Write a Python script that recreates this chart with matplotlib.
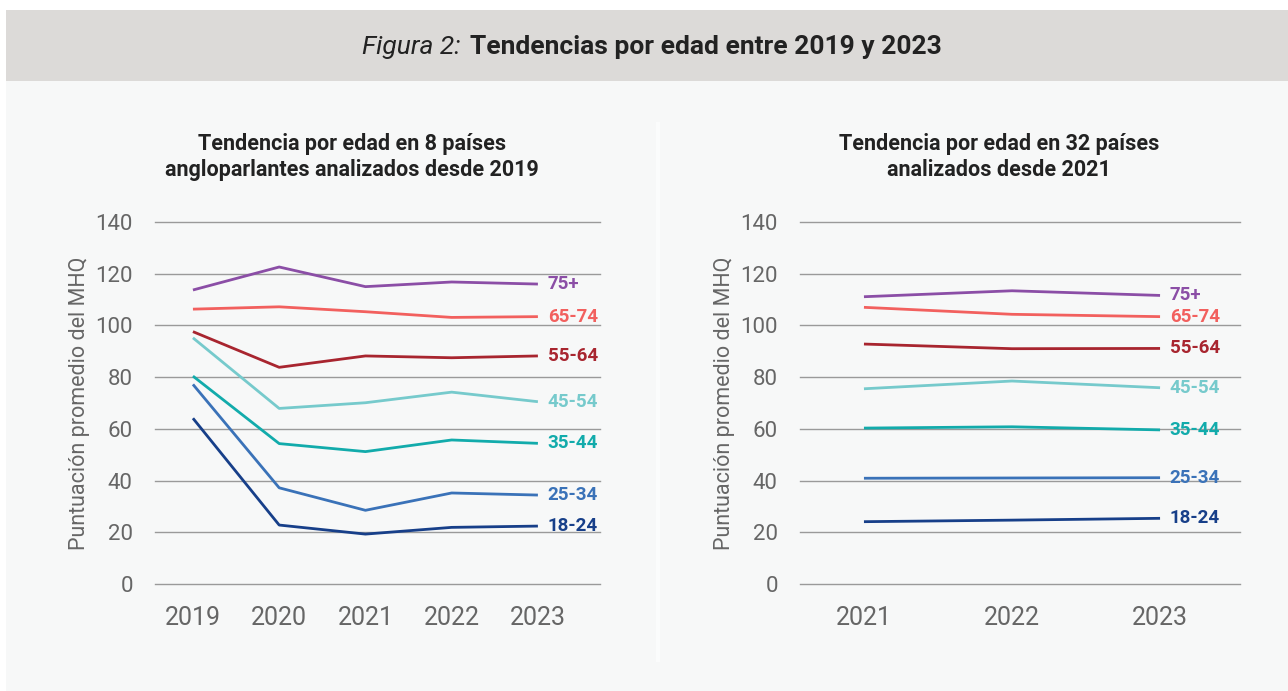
import matplotlib.pyplot as plt
from matplotlib.patches import Rectangle

plt.rcParams['font.family'] = ['Roboto', 'DejaVu Sans']

# datos
grupos = ['75+', '65-74', '55-64', '45-54', '35-44', '25-34', '18-24']
colores = ['#8b4ea6', '#f2605e', '#a8252f', '#76cacc', '#12abab', '#3a72b8', '#173f89']

anios_izq = ['2019', '2020', '2021', '2022', '2023']
izq = {
    '75+':   [113.7, 122.6, 115.0, 116.8, 116.0],
    '65-74': [106.3, 107.2, 105.3, 103.1, 103.4],
    '55-64': [97.6, 83.8, 88.2, 87.5, 88.2],
    '45-54': [95.2, 67.9, 70.1, 74.2, 70.5],
    '35-44': [80.4, 54.3, 51.2, 55.7, 54.4],
    '25-34': [77.2, 37.2, 28.5, 35.2, 34.4],
    '18-24': [64.1, 22.8, 19.3, 21.9, 22.4],
}

anios_der = ['2021', '2022', '2023']
der = {
    '75+':   [111.1, 113.4, 111.6],
    '65-74': [107.0, 104.3, 103.4],
    '55-64': [92.8, 91.0, 91.1],
    '45-54': [75.5, 78.5, 75.9],
    '35-44': [60.3, 60.8, 59.6],
    '25-34': [40.9, 41.0, 41.1],
    '18-24': [24.1, 24.7, 25.4],
}

W, H = 1288, 691
fig = plt.figure(figsize=(W / 100, H / 100), dpi=100)
fig.patch.set_facecolor('white')

# fondos
fig.add_artist(Rectangle((6 / W, 1 - 81 / H), 1, 71 / H, transform=fig.transFigure,
                         facecolor='#dcdad8', edgecolor='none', zorder=0))
fig.add_artist(Rectangle((6 / W, 0), 1, 1 - 81 / H, transform=fig.transFigure,
                         facecolor='#f7f8f8', edgecolor='none', zorder=0))
fig.add_artist(Rectangle((656 / W, 1 - 662 / H), 4 / W, 540 / H, transform=fig.transFigure,
                         facecolor='#fbfcfc', edgecolor='none', zorder=0))

fig.text(362 / W, 1 - 47 / H, 'Figura 2:', ha='left', va='center', fontsize=19,
         style='italic', color='#222222')
fig.text(470 / W, 1 - 47 / H, 'Tendencias por edad entre 2019 y 2023', ha='left',
         va='center', fontsize=19, weight='bold', color='#222222')


def panel(rect, anios, datos, xlim, titulo, titulo_x):
    ax = fig.add_axes(rect)
    ax.set_facecolor('none')
    x = list(range(len(anios)))
    for g, c in zip(grupos, colores):
        ax.plot(x, datos[g], color=c, lw=2, solid_capstyle='butt', zorder=3)
        ax.annotate(g, (x[-1], datos[g][-1]), xytext=(7, 0), textcoords='offset points',
                    ha='left', va='center', color=c, fontsize=13.5, weight='bold',
                    annotation_clip=False)
    ax.set_ylim(0, 140)
    ax.set_xlim(*xlim)
    ax.set_yticks(range(0, 141, 20))
    ax.set_xticks(x)
    ax.set_xticklabels(anios)
    ax.grid(axis='y', color='#9a9a9a', lw=1)
    for gl in ax.get_ygridlines():
        gl.set_clip_on(False)
    ax.set_axisbelow(True)
    for s in ax.spines.values():
        s.set_visible(False)
    ax.tick_params(axis='y', length=0, pad=16, labelsize=16, labelcolor='#666666')
    ax.tick_params(axis='x', length=0, pad=16, labelsize=18, labelcolor='#666666')
    ax.set_ylabel('Puntuación promedio del MHQ', fontsize=15.5, color='#666666', labelpad=4)
    fig.text(titulo_x, 1 - 157 / H, titulo, ha='center', va='center', fontsize=15.5,
             weight='bold', color='#222222', linespacing=1.25)
    return ax


panel([155 / W, 1 - 584 / H, 445 / W, 362 / H], anios_izq, izq, (-0.44, 4.72),
      'Tendencia por edad en 8 países\nangloparlantes analizados desde 2019', 352 / W)
panel([800 / W, 1 - 584 / H, 440 / W, 362 / H], anios_der, der, (-0.432, 2.54),
      'Tendencia por edad en 32 países\nanalizados desde 2021', 999 / W)

fig.savefig('out.png', dpi=100)
